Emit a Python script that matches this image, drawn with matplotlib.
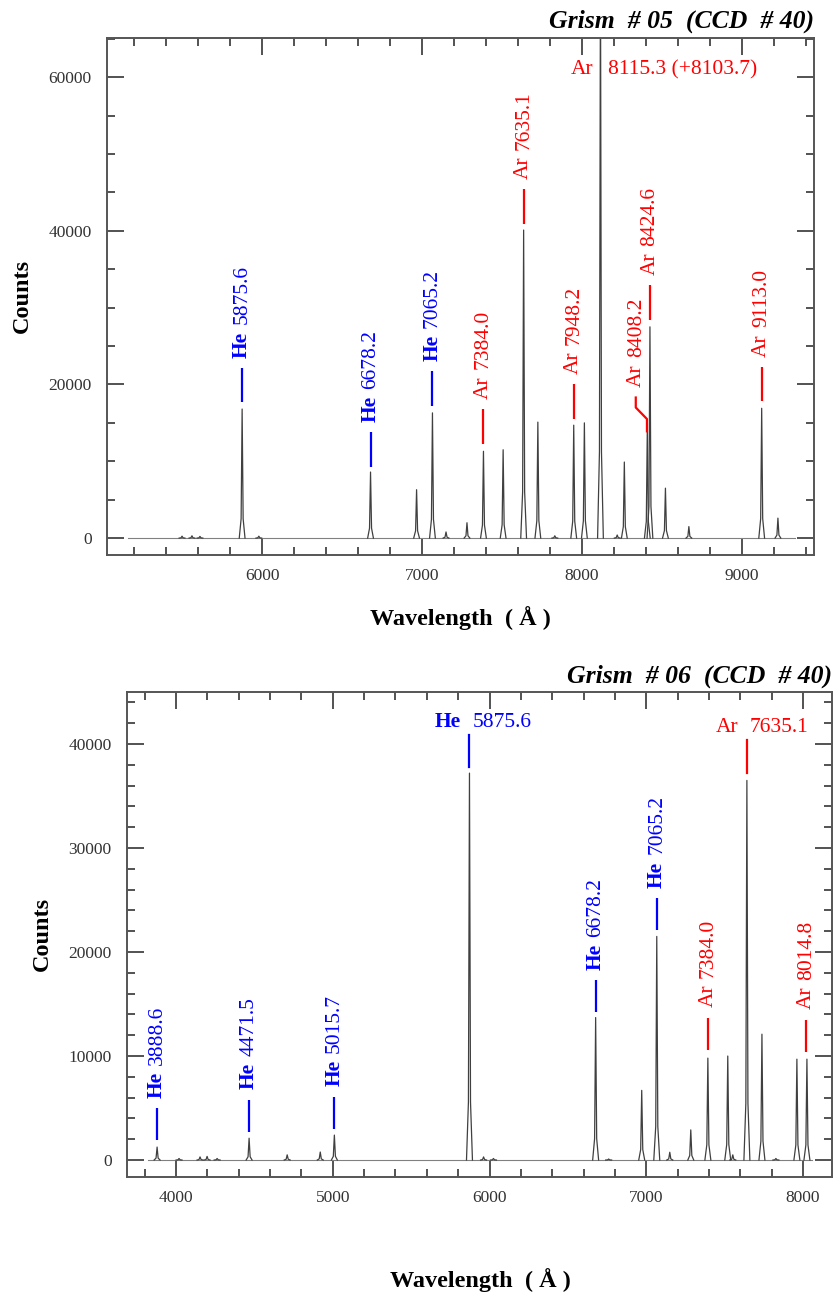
"""He-Ar arc lamp spectra for grism #05 and #06 (CCD #40)."""

import matplotlib
matplotlib.use("Agg")
import matplotlib.pyplot as plt
from matplotlib.ticker import MultipleLocator
from matplotlib.transforms import offset_copy

plt.rcParams["font.family"] = ["Liberation Serif", "DejaVu Serif"]

BLUE, RED, INK = "#0000ff", "#ff0000", "#404040"

# ---- grism #05: peak positions (A) and heights (counts) ----
g05_wl = [5500, 5562, 5612, 5875.6, 5980, 6678.2, 6966, 7065.2, 7150, 7281,
          7384.0, 7507, 7635.1, 7724, 7830, 7948.2, 8014.8, 8115.3, 8220,
          8264.5, 8408.2, 8424.6, 8521.4, 8667.9, 9123.0, 9224.5]
g05_h = [250, 300, 220, 16800, 250, 8600, 6300, 16300, 800, 2000,
         11300, 11500, 40100, 15100, 300, 14700, 15000, 75000, 400,
         9900, 14500, 27500, 6500, 1500, 16900, 2600]
g05_span = (5163, 9330)

# rotated labels: ion, wavelength text, marker x, marker base (counts)
g05_ion = ["He", "He", "He", "Ar", "Ar", "Ar", "Ar", "Ar"]
g05_lab = ["5875.6", "6678.2", "7065.2", "7384.0", "7635.1", "7948.2", "8424.6", "9113.0"]
g05_mx = [5875.6, 6678.2, 7065.2, 7384.0, 7635.1, 7948.2, 8424.6, 9123.0]
g05_my = [17700, 9300, 17200, 12300, 40900, 15500, 28400, 17800]

# ---- grism #06 ----
g06_wl = [3879, 4019, 4153, 4198, 4262, 4466, 4709, 4920, 5010, 5872, 5962,
          6025, 6677, 6760, 6971, 7067, 7150, 7284, 7393, 7520, 7552, 7642,
          7738, 7827, 7961, 8025]
g06_h = [1250, 150, 300, 350, 150, 2100, 500, 770, 2400, 37200, 300,
         150, 13700, 100, 6700, 21500, 750, 2900, 9800, 10000, 500, 36500,
         12100, 150, 9700, 9700]
g06_span = (3820, 8060)

g06_ion = ["He", "He", "He", "He", "He", "Ar", "Ar"]
g06_lab = ["3888.6", "4471.5", "5015.7", "6678.2", "7065.2", "7384.0", "8014.8"]
g06_mx = [3879, 4466, 5010, 6677, 7067, 7393, 8022]
g06_my = [1900, 2700, 3000, 14200, 22100, 10600, 10400]

FS = 15.5

fig = plt.figure(figsize=(8.4, 12.99), dpi=100)
ax1 = fig.add_axes([107 / 840, 1 - 555 / 1299, 707 / 840, 517 / 1299])
ax2 = fig.add_axes([127 / 840, 1 - 1177 / 1299, 705 / 840, 485 / 1299])
renderer = fig.canvas.get_renderer()


def style(ax, xlim, ylim, ymaj, ymin):
    ax.set_xlim(*xlim)
    ax.set_ylim(*ylim)
    ax.xaxis.set_major_locator(MultipleLocator(1000))
    ax.xaxis.set_minor_locator(MultipleLocator(200))
    ax.yaxis.set_major_locator(MultipleLocator(ymaj))
    ax.yaxis.set_minor_locator(MultipleLocator(ymin))
    ax.tick_params(which="both", direction="in", top=True, right=True,
                   color="#444444", width=1.3, labelsize=12.5, labelcolor="#333333")
    ax.tick_params(which="major", length=12)
    ax.tick_params(which="minor", length=6)
    ax.tick_params(axis="x", pad=9)
    ax.tick_params(axis="y", pad=11)
    for s in ax.spines.values():
        s.set_color("#555555")
        s.set_linewidth(1.4)


def spectrum(ax, wl, h, span, hw):
    # each line drawn as a narrow peak with a slightly broadened foot
    ax.plot(span, [0, 0], color="#808080", lw=0.8)
    for w, v in zip(wl, h):
        ax.plot([w - hw, w - 0.35 * hw, w, w + 0.35 * hw, w + hw],
                [0, 0.15 * v, v, 0.15 * v, 0], color=INK, lw=0.9)


def vtag(ax, x, y0, length, gap, ion, num, tx=None):
    color = BLUE if ion == "He" else RED
    ax.plot([x, x], [y0, y0 + length], color=color, lw=1.6, solid_capstyle="butt")
    tx = x if tx is None else tx
    t = ax.text(tx, y0 + length + gap, ion, rotation=90, ha="center", va="bottom",
                color=color, fontsize=FS, fontweight="bold" if ion == "He" else "normal")
    bb = t.get_window_extent(renderer)
    tr = offset_copy(ax.transData, fig=fig, x=0, y=bb.height + 7, units="dots")
    ax.text(tx, y0 + length + gap, num, rotation=90, ha="center", va="bottom",
            color=color, fontsize=FS, transform=tr)


def htag(ax, x, y, ion, num, left, right):
    color = BLUE if ion == "He" else RED
    ax.annotate(ion, (x, y), xytext=(-left, 0), textcoords="offset pixels",
                ha="right", va="center", color=color, fontsize=FS,
                fontweight="bold" if ion == "He" else "normal")
    ax.annotate(num, (x, y), xytext=(right, 0), textcoords="offset pixels",
                ha="left", va="center", color=color, fontsize=FS)


# ---- top panel ----
style(ax1, (5031, 9450), (-2200, 65100), 20000, 5000)
spectrum(ax1, g05_wl, g05_h, g05_span, 18)
for ion, lab, mx, my in zip(g05_ion, g05_lab, g05_mx, g05_my):
    vtag(ax1, mx, my, 4500, 1300, ion, lab)
# blended 8408.2 line: bent marker
ax1.plot([8406, 8406, 8336, 8336], [13900, 15500, 17000, 18300], color=RED, lw=1.6)
vtag(ax1, 8340, 18300, 0, 1400, "Ar", "8408.2")
htag(ax1, 8115.3, 61000, "Ar", "8115.3 (+8103.7)", 7, 8)

# ---- bottom panel ----
style(ax2, (3687, 8185), (-1630, 45000), 10000, 2000)
spectrum(ax2, g06_wl, g06_h, g06_span, 19)
for ion, lab, mx, my in zip(g06_ion, g06_lab, g06_mx, g06_my):
    vtag(ax2, mx, my, 3100, 1000, ion, lab)
ax2.plot([5872, 5872], [37800, 40900], color=BLUE, lw=1.6)
htag(ax2, 5872, 42100, "He", "5875.6", 9, 3)
ax2.plot([7642, 7642], [37200, 40400], color=RED, lw=1.6)
htag(ax2, 7642, 41600, "Ar", "7635.1", 8, 3)

# ---- titles and axis labels ----
title_kw = dict(ha="right", va="baseline", fontsize=18.5, fontweight="bold", style="italic")
fig.text(814 / 840, 1 - 28 / 1299, "Grism  # 05  (CCD  # 40)", **title_kw)
fig.text(832 / 840, 1 - 683 / 1299, "Grism  # 06  (CCD  # 40)", **title_kw)

lab_kw = dict(ha="center", va="center", fontsize=17.5, fontweight="bold")
fig.text(22 / 840, 1 - 296 / 1299, "Counts", rotation=90, **lab_kw)
fig.text(42 / 840, 1 - 934 / 1299, "Counts", rotation=90, **lab_kw)
fig.text(460 / 840, 1 - 618 / 1299, "Wavelength  ( Å )", **lab_kw)
fig.text(480 / 840, 1 - 1280 / 1299, "Wavelength  ( Å )", **lab_kw)

fig.savefig("out.png", dpi=100)
